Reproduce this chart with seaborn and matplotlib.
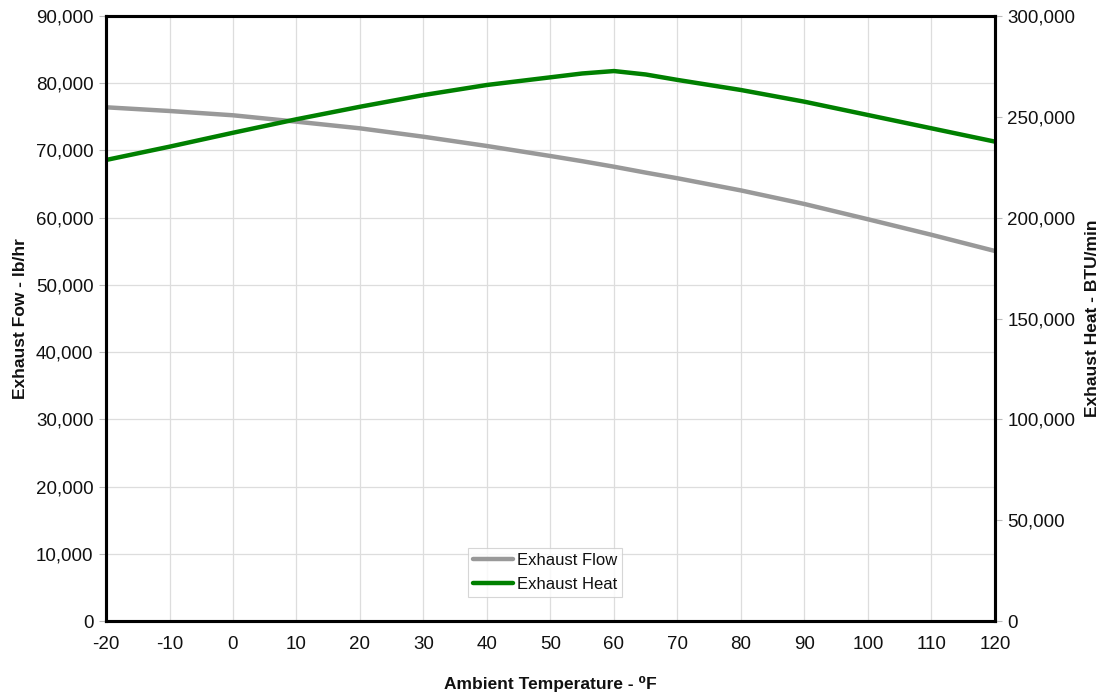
import matplotlib
matplotlib.use("Agg")
import matplotlib.pyplot as plt
import seaborn as sns
import pandas as pd
from matplotlib.ticker import FuncFormatter, MultipleLocator

# ---- data ----
temps = [-20, -10, 0, 10, 20, 30, 40, 50, 55, 60, 65, 70, 80, 90, 100, 110, 120]
exhaust_flow = [76420, 75870, 75230, 74280, 73290, 72040, 70660, 69170, 68400,
                67580, 66700, 65860, 64050, 62030, 59760, 57450, 55040]
exhaust_heat = [228600, 235200, 242100, 248800, 255000, 260800, 265800, 269600, 271500,
                272700, 271000, 268300, 263300, 257500, 250900, 244300, 237700]
series_names = ["Exhaust Flow", "Exhaust Heat"]

df = pd.DataFrame({"temp": temps, "flow": exhaust_flow, "heat": exhaust_heat})

sns.set_theme(style="white")
plt.rcParams["font.family"] = ["Liberation Sans", "DejaVu Sans"]

fig = plt.figure(figsize=(11.06, 6.94), dpi=100)
ax = fig.add_axes([106 / 1106, (694 - 621) / 694, (995 - 106) / 1106, (621 - 16) / 694])
ax2 = ax.twinx()

sns.lineplot(data=df, x="temp", y="flow", ax=ax, color="#999999", linewidth=3.2,
             label=series_names[0], legend=False)
sns.lineplot(data=df, x="temp", y="heat", ax=ax2, color="#008000", linewidth=3.2,
             label=series_names[1], legend=False)

ax.set_xlim(-20, 120)
ax.set_ylim(0, 90000)
ax2.set_ylim(0, 300000)
ax.xaxis.set_major_locator(MultipleLocator(10))
ax.yaxis.set_major_locator(MultipleLocator(10000))
ax2.yaxis.set_major_locator(MultipleLocator(50000))

fmt = FuncFormatter(lambda v, p: f"{int(round(v)):,}")
ax.yaxis.set_major_formatter(fmt)
ax2.yaxis.set_major_formatter(fmt)
ax.xaxis.set_major_formatter(FuncFormatter(lambda v, p: f"{int(round(v))}"))

ax.grid(True, color="#dddddd", linewidth=0.9)
ax.set_axisbelow(True)

for a in (ax, ax2):
    for s in a.spines.values():
        s.set_color("black")
        s.set_linewidth(2.2)
    a.tick_params(axis="both", which="major", length=5, width=0.8, color="#bbbbbb",
                  labelsize=13.5, labelcolor="#111111", pad=4)
ax.tick_params(axis="x", pad=6)
ax2.tick_params(axis="y", pad=4)

ax.set_xlabel("Ambient Temperature - \u2070F", fontsize=12.5, fontweight="bold",
              labelpad=16, color="#111111")
ax.set_ylabel("Exhaust Fow - lb/hr", fontsize=12.5, fontweight="bold", labelpad=6,
              color="#111111")
ax2.set_ylabel("Exhaust Heat - BTU/min", fontsize=12.5, fontweight="bold", labelpad=7,
               color="#111111")

h1, l1 = ax.get_legend_handles_labels()
h2, l2 = ax2.get_legend_handles_labels()
leg = ax2.legend(h1 + h2, l1 + l2, loc="lower center", bbox_to_anchor=(0.494, 0.04),
                 borderaxespad=0, fontsize=12, frameon=True, fancybox=False,
                 handlelength=2.4, handletextpad=0.25, borderpad=0.3, labelspacing=0.55)
leg.get_frame().set_edgecolor("#cccccc")
leg.get_frame().set_linewidth(0.8)
for t in leg.get_texts():
    t.set_color("#111111")

fig.savefig("out.png", dpi=100)
